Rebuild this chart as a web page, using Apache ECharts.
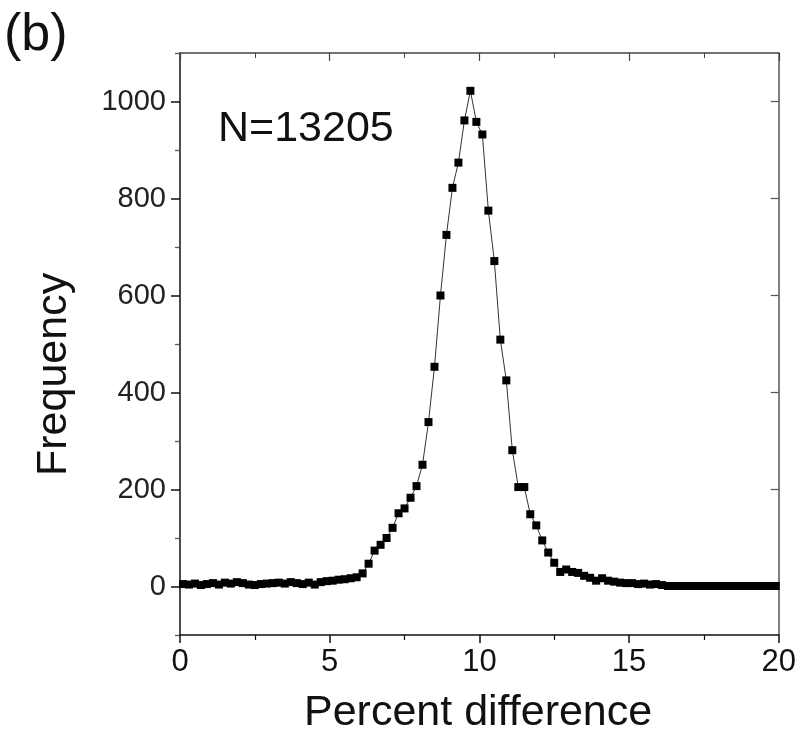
<!DOCTYPE html>
<html>
<head>
<meta charset="utf-8">
<script src="https://cdn.jsdelivr.net/npm/echarts@6/dist/echarts.min.js"></script>
<style>html,body{margin:0;padding:0;background:#fff}#c{width:799px;height:744px}</style>
</head>
<body>
<div id="c"></div>
<script>
// Bin centres (percent difference)
const percentDiff = [
  0.1,0.3,0.5,0.7,0.9,1.1,1.3,1.5,1.7,1.9,
  2.1,2.3,2.5,2.7,2.9,3.1,3.3,3.5,3.7,3.9,
  4.1,4.3,4.5,4.7,4.9,5.1,5.3,5.5,5.7,5.9,
  6.1,6.3,6.5,6.7,6.9,7.1,7.3,7.5,7.7,7.9,
  8.1,8.3,8.5,8.7,8.9,9.1,9.3,9.5,9.7,9.9,
  10.1,10.3,10.5,10.7,10.9,11.1,11.3,11.5,11.7,11.9,
  12.1,12.3,12.5,12.7,12.9,13.1,13.3,13.5,13.7,13.9,
  14.1,14.3,14.5,14.7,14.9,15.1,15.3,15.5,15.7,15.9,
  16.1,16.3,16.5,16.7,16.9,17.1,17.3,17.5,17.7,17.9,
  18.1,18.3,18.5,18.7,18.9,19.1,19.3,19.5,19.7,19.9
];
// Frequency per bin
const frequency = [
  5,4,6,3,5,7,4,8,6,9,
  7,4,3,5,6,7,8,6,9,7,
  5,8,4,9,11,12,14,15,17,19,
  27,47,74,86,100,121,151,161,183,207,
  251,339,453,600,725,822,874,961,1022,958,
  932,775,671,509,425,281,205,205,149,126,
  95,70,49,30,35,30,28,22,18,12,
  17,12,10,8,7,7,5,6,4,5,
  3,1,1,1,1,1,1,1,1,1,
  1,1,1,1,1,1,1,1,1,1
];
const yMajorTicks = [0,200,400,600,800,1000];
const yMinorTicks = [-100,100,300,500,700,900,1100];

const chart = echarts.init(document.getElementById('c'), null, {renderer:'canvas'});
const font = "'Liberation Sans', Arial, sans-serif";
const data = percentDiff.map((x,i)=>[x, frequency[i]]);

chart.setOption({
  animation:false,
  backgroundColor:'#fff',
  grid:{left:180, right:16, top:53, bottom:109},
  xAxis:[
    {type:'value', position:'bottom', min:0, max:20, interval:5,
     axisLine:{show:true, onZero:false, lineStyle:{color:'#111', width:1.5}},
     axisTick:{show:true, inside:false, length:8, lineStyle:{color:'#111', width:1.5}},
     minorTick:{show:true, splitNumber:2, length:5, lineStyle:{color:'#111', width:1.2}},
     axisLabel:{show:true, margin:12, fontSize:31, color:'#111', fontFamily:font},
     splitLine:{show:false}},
    {type:'value', position:'top', min:0, max:20, interval:5,
     axisLine:{show:true, onZero:false, lineStyle:{color:'#444', width:1.5}},
     axisTick:{show:true, inside:true, length:8, lineStyle:{color:'#444', width:1.2}},
     minorTick:{show:true, splitNumber:2, length:5, lineStyle:{color:'#444', width:1}},
     axisLabel:{show:false}, splitLine:{show:false}}
  ],
  yAxis:[
    {type:'value', position:'left', min:-100, max:1100, interval:100,
     axisLine:{show:true, onZero:false, lineStyle:{color:'#111', width:1.5}},
     axisTick:{show:true, inside:false, length:9, customValues:yMajorTicks, lineStyle:{color:'#111', width:1.5}},
     axisLabel:{show:true, margin:14, fontSize:29, color:'#222', fontFamily:font, customValues:yMajorTicks,
                formatter:(v)=>String(v)},
     splitLine:{show:false}},
    {type:'value', position:'left', min:-100, max:1100, interval:100,
     axisLine:{show:false},
     axisTick:{show:true, inside:false, length:5, customValues:yMinorTicks, lineStyle:{color:'#111', width:1.2}},
     axisLabel:{show:false}, splitLine:{show:false}},
    {type:'value', position:'right', min:-100, max:1100, interval:100,
     axisLine:{show:true, onZero:false, lineStyle:{color:'#555', width:1.5}},
     axisTick:{show:true, inside:true, length:8, customValues:yMajorTicks, lineStyle:{color:'#555', width:1.2}},
     axisLabel:{show:false}, splitLine:{show:false}},
    {type:'value', position:'right', min:-100, max:1100, interval:100,
     axisLine:{show:false},
     axisTick:{show:true, inside:true, length:5, customValues:yMinorTicks, lineStyle:{color:'#555', width:1}},
     axisLabel:{show:false}, splitLine:{show:false}}
  ],
  series:[{
    type:'line', xAxisIndex:0, yAxisIndex:0, data:data,
    symbol:'rect', symbolSize:8, showAllSymbol:true,
    lineStyle:{color:'#333', width:1},
    itemStyle:{color:'#000'}
  }],
  graphic:[
    {type:'text', left:4, top:10, style:{text:'(b)', font:"52px 'Liberation Sans', Arial, sans-serif", fill:'#111'}},
    {type:'text', left:218, top:108, style:{text:'N=13205', font:"43px 'Liberation Sans', Arial, sans-serif", fill:'#111'}},
    {type:'text', left:304, top:692, style:{text:'Percent difference', font:"43px 'Liberation Sans', Arial, sans-serif", fill:'#111'}},
    {type:'text', x:33, y:476, rotation:Math.PI/2, style:{text:'Frequency', font:"43px 'Liberation Sans', Arial, sans-serif", fill:'#111'}}
  ]
});
</script>
</body>
</html>
